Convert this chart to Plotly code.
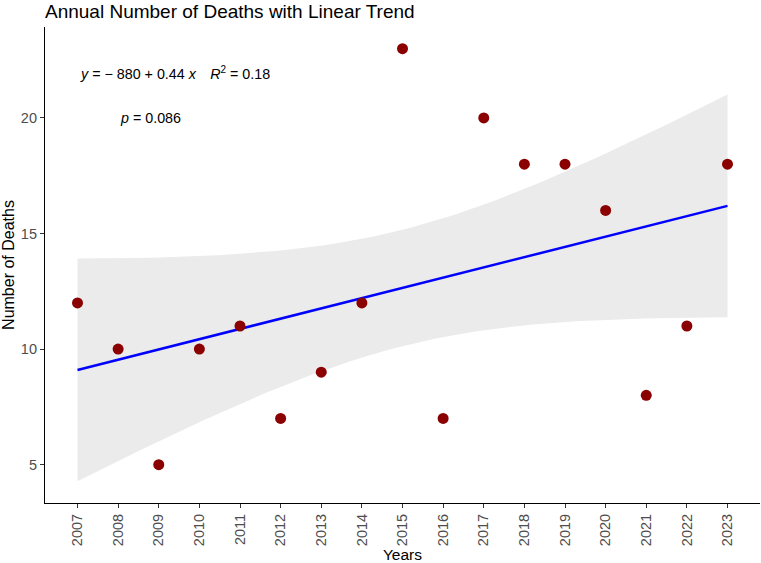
import numpy as np
import plotly.graph_objects as go

years = [2007, 2008, 2009, 2010, 2011, 2012, 2013, 2014, 2015, 2016, 2017, 2018, 2019, 2020, 2021, 2022, 2023]
deaths = [12, 10, 5, 10, 11, 7, 9, 12, 23, 7, 20, 18, 18, 16, 8, 11, 18]
y_ticks = [5, 10, 15, 20]
title_text = "Annual Number of Deaths with Linear Trend"
eq_text = "<i>y</i> = − 880 + 0.44 <i>x</i>\u2003<i>R</i><sup>2</sup> = 0.18"
p_text = "<i>p</i> = 0.086"

x = np.array(years, dtype=float)
y = np.array(deaths, dtype=float)
n = len(x)
b1, b0 = np.polyfit(x, y, 1)
resid = y - (b0 + b1 * x)
s = np.sqrt(np.sum(resid ** 2) / (n - 2))
sxx = np.sum((x - x.mean()) ** 2)
t_crit = 2.131449546  # t(0.975, df=15)
xg = np.linspace(x.min(), x.max(), 80)
yg = b0 + b1 * xg
se = s * np.sqrt(1.0 / n + (xg - x.mean()) ** 2 / sxx)
lo = yg - t_crit * se
hi = yg + t_crit * se

ymin = min(lo.min(), y.min())
ymax = max(hi.max(), y.max())
yr = ymax - ymin
xr = x.max() - x.min()

FONT = "Liberation Sans, Arial, sans-serif"

fig = go.Figure()
fig.add_trace(go.Scatter(
    x=np.concatenate([xg, xg[::-1]]), y=np.concatenate([hi, lo[::-1]]),
    fill="toself", fillcolor="#EBEBEB", line=dict(width=0), mode="lines",
    hoverinfo="skip", showlegend=False))
fig.add_trace(go.Scatter(x=xg, y=yg, mode="lines",
                         line=dict(color="#0000FF", width=2.5), showlegend=False))
fig.add_trace(go.Scatter(x=years, y=deaths, mode="markers",
                         marker=dict(color="#8B0000", size=11), showlegend=False))

fig.add_annotation(x=2007, y=21.95, xref="x", yref="y", text=eq_text,
                   showarrow=False, xanchor="left", yanchor="middle",
                   font=dict(size=14.3, color="black", family=FONT))
fig.add_annotation(x=2008, y=20, xref="x", yref="y", text=p_text,
                   showarrow=False, xanchor="left", yanchor="middle",
                   font=dict(size=14.3, color="black", family=FONT))

axis_font = dict(size=14.5, color="#4D4D4D", family=FONT)
fig.update_layout(
    width=761, height=563,
    margin=dict(l=45, r=1, t=27, b=60),
    plot_bgcolor="white", paper_bgcolor="white",
    font=dict(family=FONT, color="black"),
    title=dict(text=title_text, x=45 / 761, xanchor="left", y=1 - 11 / 563, yanchor="middle",
               font=dict(size=19, color="black")),
    xaxis=dict(range=[x.min() - 0.05 * xr, x.max() + 0.05 * xr],
               tickmode="array", tickvals=years, ticktext=[str(v) for v in years],
               tickangle=-90, showgrid=False, zeroline=False,
               showline=True, linecolor="black", linewidth=1.2,
               ticks="outside", ticklen=4, tickcolor="#333333",
               tickfont=axis_font,
               title=dict(text="Years", font=dict(size=15.5, color="black"), standoff=2)),
    yaxis=dict(range=[ymin - 0.05 * yr, ymax + 0.05 * yr],
               tickmode="array", tickvals=y_ticks,
               showgrid=False, zeroline=False,
               showline=True, linecolor="black", linewidth=1.2,
               ticks="outside", ticklen=4, tickcolor="#333333",
               tickfont=axis_font,
               title=dict(text="Number of Deaths", font=dict(size=16, color="black"), standoff=2)),
)
fig.write_html("out.html")
